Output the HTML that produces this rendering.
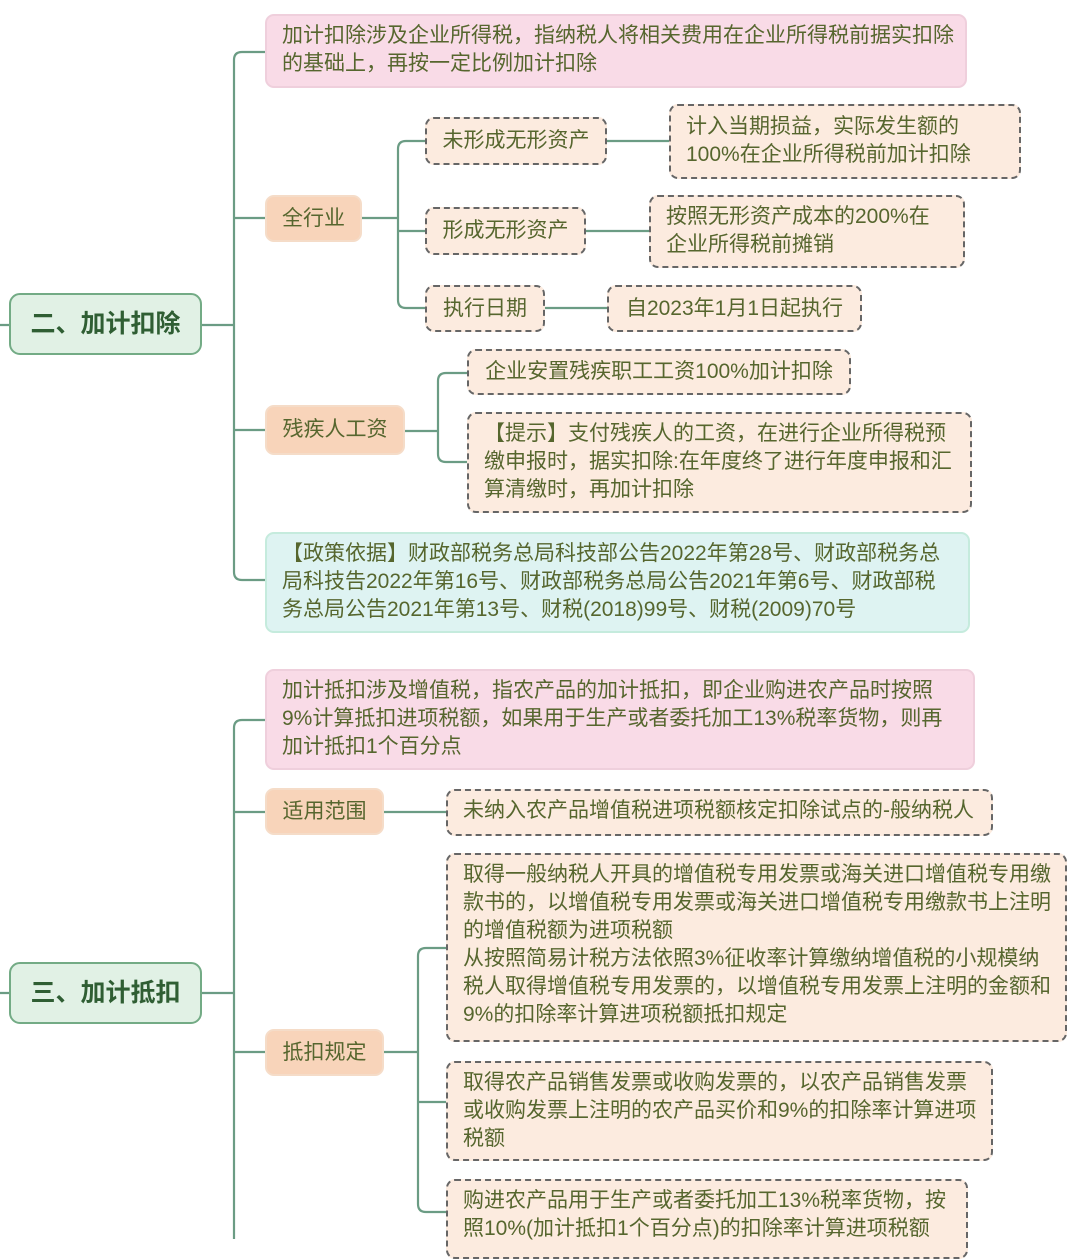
<!DOCTYPE html>
<html><head><meta charset="utf-8"><style>
body{margin:0;width:1069px;height:1239px;background:#fff;overflow:hidden;position:relative;font-family:"Liberation Sans","Noto Sans CJK SC",sans-serif;}
.b{position:absolute;box-sizing:border-box;color:#56662e;font-size:21px;line-height:28px;border-radius:9px;white-space:nowrap;}
.pink{background:#f9dbe7;border:2px solid #efcfdc;padding:6px 15px;}
.or{background:#f8d4ba;border:2px solid #f5dcc8;display:flex;align-items:center;justify-content:center;}
.d{background:#fcebdf;border:2px dashed #666;padding:6px 15px;}
.dc{display:flex;align-items:center;justify-content:center;padding:0 14px;}
.blue{background:#def3f2;border:2px solid #c5ebdd;padding:6px 15px;}
.main{background:#e1f1e5;border:2.5px solid #73ab85;color:#2f5e33;font-weight:bold;font-size:25px;display:flex;align-items:center;justify-content:center;border-radius:11px;}
svg{position:absolute;left:0;top:0}
</style></head><body>
<svg width="1069" height="1239" fill="none" stroke="#6b9c84" stroke-width="2.2">
<path d="M0 325H9M202 325H234"/>
<path d="M265 52H242Q234 52 234 60V572Q234 580 242 580H265"/>
<path d="M234 218H265M234 430H265"/>
<path d="M362 218H398M425 141H406Q398 141 398 149V300Q398 308 406 308H425M398 231H425"/>
<path d="M607 141H669M586 231H649M545 308H607"/>
<path d="M405 431H438M467 373H446Q438 373 438 381V454Q438 462 446 462H467"/>
<path d="M0 993H9M202 993H234"/>
<path d="M265 720H242Q234 720 234 728V1239M234 812H265M234 1052H265"/>
<path d="M384 812H446"/>
<path d="M384 1052H418M446 948H426Q418 948 418 956V1204Q418 1212 426 1212H446M418 1102H446"/>
</svg>
<div class="b main" style="left:9px;top:293px;width:193px;height:62px">二、加计扣除</div>
<div class="b pink" style="left:265px;top:14px;width:702px;height:74px">加计扣除涉及企业所得税，指纳税人将相关费用在企业所得税前据实扣除<br>的基础上，再按一定比例加计扣除</div>
<div class="b or" style="left:265px;top:195px;width:97px;height:47px">全行业</div>
<div class="b d dc" style="left:425px;top:117px;width:182px;height:48px">未形成无形资产</div>
<div class="b d" style="left:669px;top:104px;width:352px;height:75px;padding-top:7px">计入当期损益，实际发生额的<br>100%在企业所得税前加计扣除</div>
<div class="b d dc" style="left:425px;top:207px;width:161px;height:48px">形成无形资产</div>
<div class="b d" style="left:649px;top:195px;width:316px;height:73px">按照无形资产成本的200%在<br>企业所得税前摊销</div>
<div class="b d dc" style="left:425px;top:285px;width:120px;height:47px">执行日期</div>
<div class="b d dc" style="left:607px;top:285px;width:255px;height:47px">自2023年1月1日起执行</div>
<div class="b or" style="left:265px;top:405px;width:140px;height:50px">残疾人工资</div>
<div class="b d dc" style="left:467px;top:349px;width:384px;height:46px">企业安置残疾职工工资100%加计扣除</div>
<div class="b d" style="left:467px;top:412px;width:505px;height:101px">【提示】支付残疾人的工资，在进行企业所得税预<br>缴申报时，据实扣除:在年度终了进行年度申报和汇<br>算清缴时，再加计扣除</div>
<div class="b blue" style="left:265px;top:532px;width:705px;height:101px">【政策依据】财政部税务总局科技部公告2022年第28号、财政部税务总<br>局科技告2022年第16号、财政部税务总局公告2021年第6号、财政部税<br>务总局公告2021年第13号、财税(2018)99号、财税(2009)70号</div>
<div class="b main" style="left:9px;top:962px;width:193px;height:62px">三、加计抵扣</div>
<div class="b pink" style="left:265px;top:669px;width:710px;height:101px">加计抵扣涉及增值税，指农产品的加计抵扣，即企业购进农产品时按照<br>9%计算抵扣进项税额，如果用于生产或者委托加工13%税率货物，则再<br>加计抵扣1个百分点</div>
<div class="b or" style="left:265px;top:788px;width:119px;height:47px">适用范围</div>
<div class="b d" style="left:446px;top:789px;width:547px;height:47px">未纳入农产品增值税进项税额核定扣除试点的-般纳税人</div>
<div class="b or" style="left:265px;top:1029px;width:119px;height:47px">抵扣规定</div>
<div class="b d" style="left:446px;top:853px;width:621px;height:189px">取得一般纳税人开具的增值税专用发票或海关进口增值税专用缴<br>款书的，以增值税专用发票或海关进口增值税专用缴款书上注明<br>的增值税额为进项税额<br>从按照简易计税方法依照3%征收率计算缴纳增值税的小规模纳<br>税人取得增值税专用发票的，以增值税专用发票上注明的金额和<br>9%的扣除率计算进项税额抵扣规定</div>
<div class="b d" style="left:446px;top:1061px;width:547px;height:100px">取得农产品销售发票或收购发票的，以农产品销售发票<br>或收购发票上注明的农产品买价和9%的扣除率计算进项<br>税额</div>
<div class="b d" style="left:446px;top:1179px;width:522px;height:80px">购进农产品用于生产或者委托加工13%税率货物，按<br>照10%(加计抵扣1个百分点)的扣除率计算进项税额</div>
</body></html>
